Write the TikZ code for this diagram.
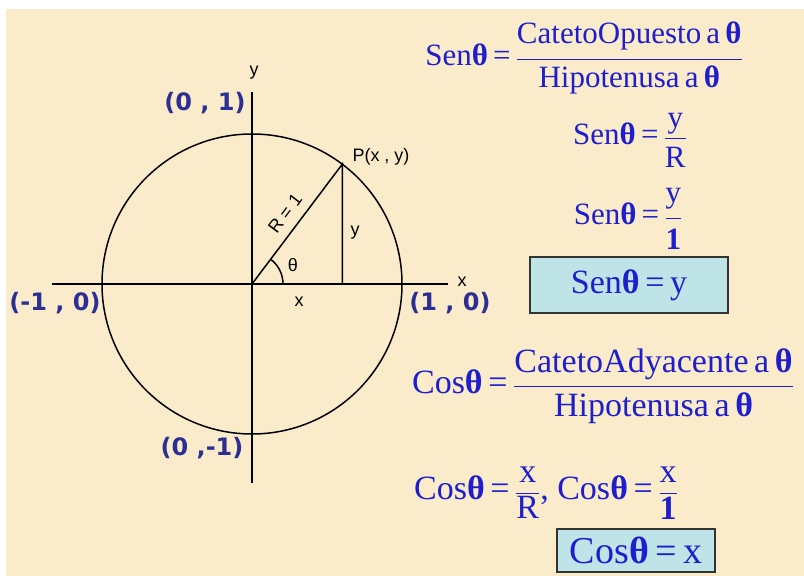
\documentclass[tikz,border=0pt]{standalone}
\usepackage{fontspec}
\usepackage{amsmath}
\usetikzlibrary{calc}
\setmainfont{Liberation Serif}
\newfontfamily\arialf{Liberation Sans}
\newfontfamily\heavyf{DejaVu Sans}
\definecolor{parch}{RGB}{250,236,203}
\definecolor{navy}{RGB}{44,46,148}
\definecolor{fblue}{RGB}{30,30,205}
\definecolor{boxfill}{RGB}{190,228,232}
\newcommand\thb{\textbf{θ}}
\newcommand\fsz[1]{\fontsize{#1}{#1}\selectfont}
% fraction with extra gaps: num, den, raise num, lower den
\newcommand\fr[4]{\dfrac{\raisebox{#3}{#1}}{\raisebox{-#4}{#2}}}
\begin{document}
\begin{tikzpicture}[x=1pt,y=1pt,
  lab/.style={font=\arialf\fsz{18}, inner sep=0pt},
  coordlab/.style={font=\heavyf\bfseries\fsz{24}, text=navy, inner sep=0pt},
  frm/.style={text=fblue, inner sep=0pt},
  resbox/.style={draw=black!80, line width=1.5pt, fill=boxfill, text=fblue, inner sep=0pt},
  geo/.style={line width=1.5pt, black}]
\useasboundingbox (0,0) rectangle (804,576);
\fill[white] (0,0) rectangle (804,576);
\fill[parch] (6,0) rectangle (804,567);
% geometry
\coordinate (O) at (252,292);
\coordinate (xl) at (52,292);
\coordinate (xr) at (448,292);
\coordinate (yt) at (252,484);
\coordinate (yb) at (252,93);
\coordinate (P) at ($(O)+(53:150)$);
\coordinate (F) at (P |- O);
\coordinate (A0) at ($(O)+(31,0)$);
\draw[geo] (O) circle (150);
\draw[geo] (xl) -- (xr);
\draw[geo] (yb) -- (yt);
\draw[geo] (O) -- (P) -- (F);
\draw[geo] (A0) arc (0:53:31);
% small labels
\node[lab] (Plab) at (381,419) {P(x , y)};
\node[lab] (ylab) at (355,343) {y};
\node[lab] (xlab) at (299,274) {x};
\node[lab] (thlab) at (293,311) {θ};
\node[lab, rotate=53] (Rlab) at (285,362.5) {R = 1};
\node[lab] (yax) at (254,503) {y};
\node[lab] (xax) at (462,294) {x};
% coordinate labels
\node[coordlab] (c01) at (205,473) {(0 , 1)};
\node[coordlab] (cm10) at (55,273) {(-1 , 0)};
\node[coordlab] (c10) at (450,273) {(1 , 0)};
\node[coordlab] (c0m1) at (202,128) {(0 ,-1)};
% sine formulas
\node[frm, font=\fsz{31}] (s1) at (584,518)
  {$\text{Sen\thb\,=\,}\fr{CatetoOpuesto\,a\,\thb}{Hipotenusa\,a\,\thb}{6pt}{5pt}$};
\node[frm, font=\fsz{31}] (s2) at (630,436)
  {$\text{Sen\thb\,=\,}\fr{y}{R}{1pt}{5pt}$};
\node[frm, font=\fsz{31}] (s3) at (628,357)
  {$\text{Sen\thb\,=\,}\fr{y}{\textbf{1}}{5pt}{8pt}$};
\node[resbox, minimum width=198, minimum height=56, font=\fsz{34}] (s4) at (629,291)
  {Sen\thb\,=\,y};
% cosine formulas
\node[frm, font=\fsz{34}] (c1) at (603,190)
  {$\text{Cos\thb\,=\,}\fr{CatetoAdyacente\,a\,\thb}{Hipotenusa\,a\,\thb}{4pt}{6pt}$};
\node[frm, font=\fsz{34}] (c2) at (546,83)
  {$\text{Cos\thb\,=\,}\fr{x}{R}{0pt}{1pt}\text{, Cos\thb\,=\,}\fr{x}{\textbf{1}}{0pt}{1pt}$};
\node[resbox, minimum width=158, minimum height=43, font=\fsz{38}] (c3) at (636,25.5)
  {Cos\thb\,=\,x};
\end{tikzpicture}
\end{document}
